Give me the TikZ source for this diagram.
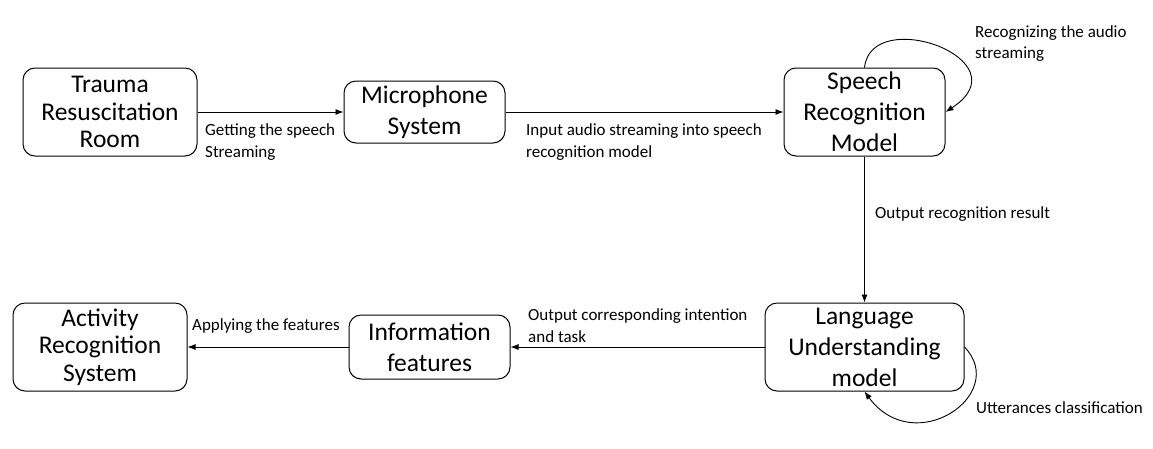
\documentclass[tikz,border=0pt]{standalone}
\usepackage{fontspec}
\setmainfont{Carlito}
\usetikzlibrary{arrows.meta}
\begin{document}
\begin{tikzpicture}[x=1pt,y=-1pt]
% corner radius of each box
\def\rd{12pt}
% node style definition
\tikzstyle{block} = [
	draw, rectangle, rounded corners=\rd, line width=1pt,
	align=center, inner sep=0pt,
	font=\fontsize{25.5}{31}\selectfont ];
\tikzstyle{tight} = [font=\fontsize{25.5}{27.5}\selectfont];
\tikzstyle{plain} = [draw=none, fill=none, inner sep=0pt,
	align=left, anchor=west,
	font=\fontsize{17}{21.5}\selectfont ];
\tikzstyle{arr} = [-{Latex[length=8pt,width=6pt]}, line width=0.9pt];
\useasboundingbox (0,0) rectangle (1153,448);

% top row
\node[block, tight, minimum width=174, minimum height=88] (trauma) at (110,112) { Trauma\\Resuscitation\\Room };
\node[block, minimum width=161, minimum height=62] (mic) at (424.5,112) { Microphone\\System };
\node[block, minimum width=161, minimum height=88] (speech) at (864.5,112) { Speech\\Recognition\\Model };

% bottom row
\node[block, minimum width=199, minimum height=88] (langu) at (864.5,347) { Language\\Understanding\\model };
\node[block, minimum width=161, minimum height=64] (info) at (429.5,347) { Information\\features };
\node[block, tight, minimum width=174, minimum height=88] (activity) at (100,347) { Activity\\Recognition\\System };

% connectors
\draw[arr] (trauma) -- (mic);
\draw[arr] (mic) -- (speech);
\draw[arr] (speech) -- (langu);
\draw[arr] (langu) -- (info);
\draw[arr] (info) -- (activity);
% self loops
\draw[arr] (speech.north) .. controls +(7,-63) and +(80,-52) .. (speech.east);
\draw[arr] (langu.east) .. controls +(45,47) and +(50,68) .. (langu.south);

% labels
\node[plain] (l1) at (205,142) { Getting the speech\\Streaming };
\node[plain] (l2) at (526,142) { Input audio streaming into speech\\recognition model };
\node[plain] (l3) at (975,43.5) { Recognizing the audio\\streaming };
\node[plain] (l4) at (875,214) { Output recognition result };
\node[plain] (l5) at (528,325.5) { Output corresponding intention\\and task };
\node[plain] (l6) at (192,326) { Applying the features };
\node[plain] (l7) at (976,408) { Utterances classification };

%\foreach \b in {trauma,mic,speech}
%{
%	\draw[arr] (\b) -- ++(1,0);
%}
\end{tikzpicture}
\end{document}
